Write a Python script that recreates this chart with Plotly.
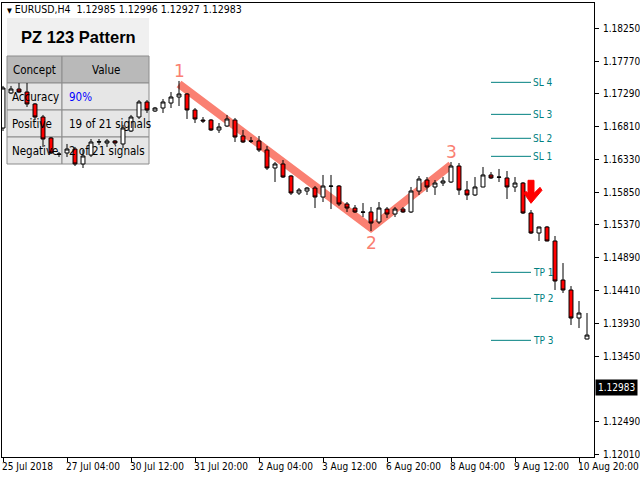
import plotly.graph_objects as go

# ---------------- data ----------------
bar_index = list(range(74))
opens = [1.16790, 1.17303, 1.17361, 1.17317, 1.17142, 1.16951, 1.16644, 1.16409, 1.16424, 1.16482,
         1.16263, 1.16394, 1.16585, 1.16570, 1.16600, 1.16556, 1.16746, 1.16951, 1.17171, 1.17039,
         1.17083, 1.17156, 1.17244, 1.17288, 1.17054, 1.16907, 1.16907, 1.16761, 1.16819, 1.16907,
         1.16673, 1.16600, 1.16600, 1.16468, 1.16204, 1.16263, 1.16087, 1.15838, 1.15867, 1.15911,
         1.15779, 1.15940, 1.15940, 1.15677, 1.15618, 1.15560, 1.15560, 1.15413, 1.15603, 1.15530,
         1.15603, 1.15560, 1.15867, 1.16028, 1.15926, 1.15984, 1.15999, 1.16233, 1.15882, 1.15809,
         1.15926, 1.16102, 1.16072, 1.16058, 1.15926, 1.15984, 1.15545, 1.15252, 1.15340, 1.15135,
         1.14563, 1.14417, 1.14007, 1.13699]
highs = [1.17406, 1.17406, 1.17449, 1.17449, 1.17156, 1.16981, 1.16658, 1.16438, 1.16556, 1.16512,
         1.16468, 1.16629, 1.16629, 1.16629, 1.16614, 1.16834, 1.16981, 1.17200, 1.17200, 1.17098,
         1.17215, 1.17317, 1.17479, 1.17303, 1.17083, 1.16951, 1.16922, 1.16863, 1.16981, 1.16937,
         1.16761, 1.16658, 1.16673, 1.16526, 1.16292, 1.16321, 1.16102, 1.15911, 1.15926, 1.15940,
         1.16102, 1.16102, 1.15955, 1.15706, 1.15662, 1.15691, 1.15633, 1.15706, 1.15633, 1.15633,
         1.15633, 1.15926, 1.16087, 1.16072, 1.16028, 1.16072, 1.16292, 1.16277, 1.16014, 1.16072,
         1.16219, 1.16145, 1.16190, 1.16160, 1.16072, 1.15999, 1.15589, 1.15345, 1.15355, 1.15208,
         1.14812, 1.14475, 1.14256, 1.14080]
lows = [1.16746, 1.17288, 1.17303, 1.17098, 1.16907, 1.16512, 1.16409, 1.16365, 1.16365, 1.16233,
        1.16204, 1.16365, 1.16541, 1.16512, 1.16541, 1.16497, 1.16731, 1.16922, 1.17010, 1.17025,
        1.17010, 1.17083, 1.17112, 1.16922, 1.16863, 1.16863, 1.16746, 1.16717, 1.16805, 1.16585,
        1.16570, 1.16570, 1.16438, 1.16175, 1.15999, 1.16058, 1.15809, 1.15809, 1.15809, 1.15618,
        1.15706, 1.15603, 1.15648, 1.15560, 1.15545, 1.15486, 1.15281, 1.15384, 1.15472, 1.15486,
        1.15545, 1.15545, 1.15809, 1.15853, 1.15809, 1.15940, 1.15984, 1.15809, 1.15735, 1.15794,
        1.15921, 1.16043, 1.15999, 1.15750, 1.15853, 1.15530, 1.15237, 1.15135, 1.15130, 1.14417,
        1.14373, 1.13904, 1.13860, 1.13695]
closes = [1.17376, 1.17361, 1.17317, 1.17142, 1.16951, 1.16629, 1.16424, 1.16405, 1.16482, 1.16263,
          1.16380, 1.16585, 1.16588, 1.16600, 1.16570, 1.16790, 1.16951, 1.17171, 1.17054, 1.17083,
          1.17171, 1.17244, 1.17288, 1.17054, 1.16922, 1.16893, 1.16761, 1.16805, 1.16922, 1.16658,
          1.16585, 1.16597, 1.16468, 1.16204, 1.16263, 1.16072, 1.15838, 1.15882, 1.15911, 1.15779,
          1.15940, 1.15937, 1.15677, 1.15618, 1.15560, 1.15557, 1.15398, 1.15618, 1.15530, 1.15603,
          1.15560, 1.15867, 1.16043, 1.15926, 1.15984, 1.16014, 1.16233, 1.15882, 1.15809, 1.15926,
          1.16102, 1.16058, 1.16069, 1.15926, 1.15984, 1.15545, 1.15252, 1.15340, 1.15135, 1.14549,
          1.14417, 1.14007, 1.14080, 1.13757]

x_tick_bars = [0, 8, 16, 24, 32, 40, 48, 56, 64, 72]
x_tick_labels = ["25 Jul 2018", "27 Jul 04:00", "30 Jul 12:00", "31 Jul 20:00", "2 Aug 04:00",
                 "3 Aug 12:00", "6 Aug 20:00", "8 Aug 04:00", "9 Aug 12:00", "10 Aug 20:00"]
y_tick_values = [1.12010, 1.12490, 1.13450, 1.13930, 1.14410, 1.14890,
                 1.15370, 1.15850, 1.16330, 1.16810, 1.17290, 1.17770, 1.18250]

pattern_bars = [22, 46, 56]
pattern_prices = [1.17435, 1.15325, 1.16248]
pattern_labels = ["1", "2", "3"]

level_names = ["SL 4", "SL 3", "SL 2", "SL 1", "TP 1", "TP 2", "TP 3"]
level_prices = [1.17459, 1.16990, 1.16639, 1.16375, 1.14676, 1.14295, 1.13680]
level_start_bar = 61
level_end_bar = 66

signal_bar = 66
signal_price = 1.15687

symbol_text = "EURUSD,H4"
header_ohlc = ["1.12985", "1.12996", "1.12927", "1.12983"]
current_price = 1.12983

table_title = "PZ 123 Pattern"
table_header = ["Concept", "Value"]
table_concepts = ["Accuracy", "Positive", "Negative"]
table_values = ["90%", "19 of 21 signals", "2 of 21 signals"]

# ---------------- layout helpers ----------------
W, H = 640, 480
ML, MR, MT, MB = 2, 46, 3, 23
PW, PH = W - ML - MR, H - MT - MB


def px_x(x):
    return (x - ML) / PW


def px_y(y):
    return 1 - (y - MT) / PH


FONT = "Tahoma, 'DejaVu Sans Condensed', 'DejaVu Sans', sans-serif"
SALMON = "#FA8072"
TEAL = "#008080"

fig = go.Figure()
fig.add_trace(go.Candlestick(
    x=bar_index, open=opens, high=highs, low=lows, close=closes,
    increasing=dict(line=dict(color="black", width=1), fillcolor="white"),
    decreasing=dict(line=dict(color="black", width=1), fillcolor="#FF0000"),
    whiskerwidth=0, showlegend=False, hoverinfo="skip",
))

shapes = []
annotations = []

# table (drawn under the candles)
shapes.append(dict(type="rect", xref="paper", yref="paper", layer="below",
                   x0=px_x(7), x1=px_x(149), y0=px_y(56), y1=px_y(18),
                   fillcolor="#F0F0F0", line=dict(width=0)))
col_edges = [7, 62, 149]
row_edges = [56, 83, 110, 137, 164]
for r in range(4):
    for c in range(2):
        shapes.append(dict(type="rect", xref="paper", yref="paper", layer="below",
                           x0=px_x(col_edges[c]), x1=px_x(col_edges[c + 1]),
                           y0=px_y(row_edges[r + 1]), y1=px_y(row_edges[r]),
                           fillcolor="#B9B9B9" if r == 0 else "#E6E6E6",
                           line=dict(color="#8C8C8C", width=1)))
annotations.append(dict(xref="paper", yref="paper", x=px_x(78), y=px_y(37), xanchor="center", yanchor="middle",
                        text="<b>" + table_title + "</b>", showarrow=False,
                        font=dict(family="'Liberation Sans', Arial, sans-serif", size=16.5, color="black")))
for c, t in enumerate(table_header):
    annotations.append(dict(xref="paper", yref="paper", x=px_x((col_edges[c] + col_edges[c + 1]) / 2),
                            y=px_y(70), xanchor="center", yanchor="middle", text=t, showarrow=False,
                            font=dict(family=FONT, size=11.5, color="black")))
for r, (cpt, val) in enumerate(zip(table_concepts, table_values)):
    yc = px_y((row_edges[r + 1] + row_edges[r + 2]) / 2)
    annotations.append(dict(xref="paper", yref="paper", x=px_x(11), y=yc, xanchor="left", yanchor="middle",
                            text=cpt, showarrow=False, borderpad=0,
                            font=dict(family=FONT, size=11.5, color="black")))
    annotations.append(dict(xref="paper", yref="paper", x=px_x(68), y=yc, xanchor="left", yanchor="middle",
                            text=val, showarrow=False, borderpad=0,
                            font=dict(family=FONT, size=11.5, color="#0000FF" if r == 0 else "black")))

# 1-2-3 pattern line (under the candles)
path = "M " + " L ".join(f"{b},{p}" for b, p in zip(pattern_bars, pattern_prices))
shapes.append(dict(type="path", xref="x", yref="y", layer="below", path=path,
                   line=dict(color=SALMON, width=8)))
for b, p, lab, ys in zip(pattern_bars, pattern_prices, pattern_labels, [13, -15, 13]):
    annotations.append(dict(x=b, y=p, text=lab, showarrow=False, yshift=ys, xanchor="center", yanchor="middle",
                            font=dict(family="'DejaVu Sans', sans-serif", size=17, color=SALMON)))

# SL / TP levels
for name, p in zip(level_names, level_prices):
    shapes.append(dict(type="line", xref="x", yref="y", x0=level_start_bar, x1=level_end_bar,
                       y0=p, y1=p, line=dict(color=TEAL, width=1)))
    annotations.append(dict(x=level_end_bar, y=p, text=name, showarrow=False, xanchor="left", yanchor="middle",
                            xshift=1, borderpad=0, font=dict(family=FONT, size=10, color=TEAL)))

# sell arrow
arrow_pts = [(-3, 23), (3, 23), (3, 10), (9, 16), (11, 13), (0, 0), (-7, 10), (-5, 12), (-3, 10)]
shapes.append(dict(type="path", xref="x", yref="y", xsizemode="pixel", ysizemode="pixel",
                   xanchor=signal_bar, yanchor=signal_price,
                   path="M " + " L ".join(f"{a},{b}" for a, b in arrow_pts) + " Z",
                   fillcolor="#FF0000", line=dict(color="#FF0000", width=1)))

# header
annotations.append(dict(xref="paper", yref="paper", x=px_x(6), y=px_y(9), xanchor="left", yanchor="middle",
                        showarrow=False, borderpad=0,
                        text="<span style='font-size:7px'>▼</span> " + symbol_text + "  " + " ".join(header_ohlc),
                        font=dict(family=FONT, size=10.5, color="black")))

# current price tag
annotations.append(dict(xref="paper", yref="y", x=1, y=current_price, xanchor="left", yanchor="middle",
                        showarrow=False, xshift=1, bgcolor="black", borderpad=2, text=f"{current_price:.5f}",
                        font=dict(family=FONT, size=10, color="white")))

# time labels (left-aligned next to tick marks)
for b, t in zip(x_tick_bars, x_tick_labels):
    annotations.append(dict(xref="x", yref="paper", x=b, y=0, xanchor="left", yanchor="top",
                            xshift=-2, yshift=-3, showarrow=False, borderpad=0, text=t,
                            font=dict(family=FONT, size=10, color="black")))

fig.update_layout(
    width=W, height=H, margin=dict(l=ML, r=MR, t=MT, b=MB),
    paper_bgcolor="white", plot_bgcolor="white", showlegend=False,
    shapes=shapes, annotations=annotations,
    xaxis=dict(range=[-0.125, 73.875], rangeslider=dict(visible=False), showgrid=False, zeroline=False,
               tickmode="array", tickvals=x_tick_bars, showticklabels=False, ticks="outside", ticklen=4,
               tickcolor="black", showline=True, linecolor="black", linewidth=1, mirror=True,
               automargin=False),
    yaxis=dict(range=[1.11971, 1.18621], side="right", showgrid=False, zeroline=False,
               tickmode="array", tickvals=y_tick_values, tickformat=".5f", ticks="outside", ticklen=4,
               ticklabelstandoff=2, automargin=False,
               tickcolor="black", showline=True, linecolor="black", linewidth=1, mirror=True,
               tickfont=dict(family=FONT, size=10, color="black")),
)

fig.write_html("out.html", config={"displayModeBar": False},
               post_script="document.body.style.margin='0';")
